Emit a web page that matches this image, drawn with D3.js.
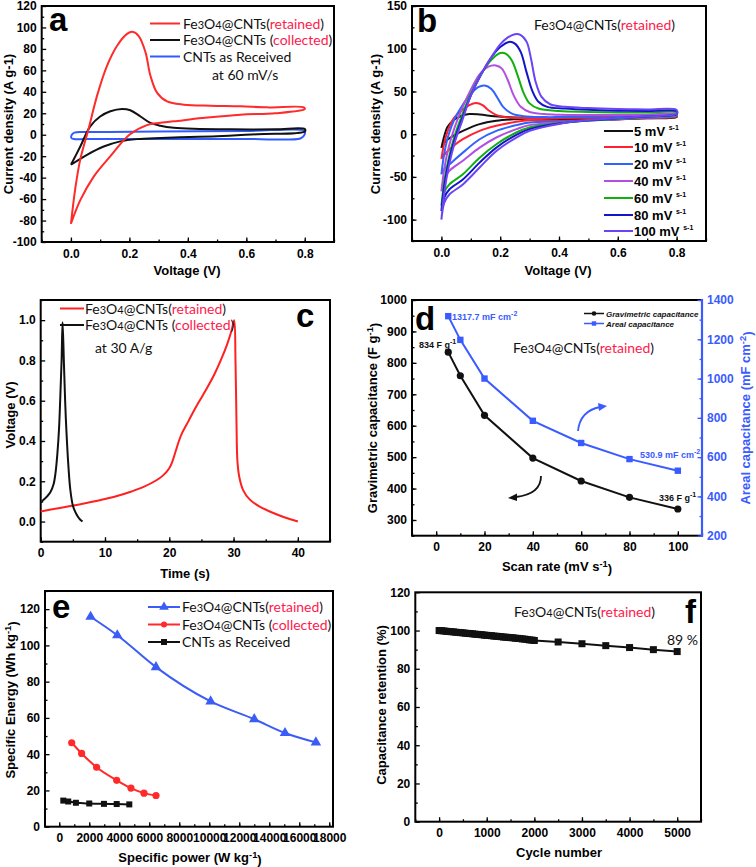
<!DOCTYPE html>
<html><head><meta charset="utf-8">
<script src="https://cdn.jsdelivr.net/npm/d3@7"></script>
<style>body{margin:0;background:#fff}svg{display:block}</style>
</head><body>
<svg id="c" width="756" height="867"></svg>
<script>
// ---------------- DATA ----------------
// Panel a: CV at 60 mV/s  [V, I]
const aRetained = [[0,-83],[0.015,-50],[0.032,-23],[0.06,5],[0.089,36],[0.123,64],[0.158,83],[0.192,94],[0.21,96],[0.232,92],[0.255,77],[0.272,55],[0.295,39],[0.329,31],[0.386,28],[0.478,27],[0.58,26.5],[0.672,25.5],[0.797,25.5],[0.8,24],[0.7,20],[0.58,18.7],[0.45,15.5],[0.352,12.5],[0.3,11],[0.26,9],[0.2,0],[0.135,-20],[0.078,-39],[0.032,-61],[0,-83]];
const aCollected = [[0,-28],[0.032,-11],[0.066,7.8],[0.1,17],[0.135,21.9],[0.175,24],[0.203,22.8],[0.238,17],[0.272,11],[0.306,8.4],[0.352,6.5],[0.42,5.5],[0.55,5],[0.7,5],[0.8,5.3],[0.8,3],[0.638,0.5],[0.5,-1.5],[0.352,-2.5],[0.306,-3],[0.226,-4.1],[0.169,-6.2],[0.112,-11],[0.055,-18.7],[0,-28]];
const aCNT = [[0,-3],[0.003,0],[0.012,2],[0.05,2.5],[0.3,3],[0.6,3.5],[0.79,4.5],[0.8,3],[0.797,-1],[0.785,-3.5],[0.6,-4],[0.3,-4],[0.05,-4],[0.01,-4],[0,-3]];
const aLegend = ["retained","collected","CNTs as Received"];

// Panel b: CV at various scan rates
const bRates = ["5","10","20","40","60","80","100"];
const b5 = [[0,-16],[0.01,-2],[0.02,8],[0.04,16],[0.065,21],[0.095,23.5],[0.13,23],[0.18,21],[0.23,19.8],[0.3,19.3],[0.4,19],[0.5,19.5],[0.6,20],[0.7,20.5],[0.8,21.5],[0.8,20],[0.7,18.5],[0.6,17.5],[0.5,17],[0.4,17.3],[0.3,18.3],[0.255,17.6],[0.187,15.7],[0.13,11.8],[0.073,3.9],[0.04,-2],[0.015,-8],[0,-16]];
const b10 = [[0,-29],[0.01,-10],[0.025,7],[0.045,20],[0.07,28],[0.095,34],[0.118,36.5],[0.14,34],[0.16,28],[0.19,22],[0.23,19.5],[0.3,18.8],[0.4,18.8],[0.5,19.2],[0.6,19.8],[0.7,20.5],[0.8,21.5],[0.8,20.5],[0.7,18.5],[0.6,17.2],[0.5,16.3],[0.4,15.8],[0.3,16.2],[0.255,14.5],[0.187,9.8],[0.13,3.9],[0.073,-5.9],[0.04,-14],[0.015,-22],[0,-29]];
const b20 = [[0,-47],[0.01,-22],[0.025,0],[0.045,18],[0.07,33],[0.1,47],[0.125,55],[0.147,57],[0.17,53],[0.19,43],[0.21,32],[0.24,24],[0.28,21],[0.35,20],[0.4,20],[0.5,20.5],[0.6,21.3],[0.7,22.2],[0.8,23],[0.8,21.5],[0.7,19.2],[0.6,17.5],[0.5,16],[0.4,14.8],[0.3,13.7],[0.255,10.6],[0.187,3.9],[0.13,-5.9],[0.073,-21.6],[0.035,-33],[0.012,-40],[0,-47]];
const b40 = [[0,-67],[0.01,-40],[0.025,-15],[0.045,8],[0.07,30],[0.1,52],[0.13,70],[0.16,79],[0.185,80.5],[0.205,77],[0.225,64],[0.245,46],[0.27,32],[0.3,26],[0.35,23.5],[0.4,22.8],[0.5,22.5],[0.6,22.5],[0.7,22.8],[0.8,23.5],[0.8,22],[0.7,19.8],[0.6,18],[0.5,16],[0.4,13.5],[0.3,10.6],[0.255,5.9],[0.187,-3.9],[0.13,-15.7],[0.073,-31],[0.027,-43],[0.01,-52],[0,-67]];
const b60 = [[0,-84],[0.01,-55],[0.025,-28],[0.045,-2],[0.07,22],[0.1,47],[0.135,70],[0.17,87],[0.2,95],[0.22,94],[0.24,86],[0.26,68],[0.28,48],[0.3,36],[0.33,30],[0.4,27],[0.5,26],[0.6,25.5],[0.7,25.3],[0.8,25.5],[0.8,23],[0.7,20.3],[0.6,18.2],[0.5,16],[0.4,12.8],[0.3,7.8],[0.255,2],[0.187,-11.8],[0.13,-27.5],[0.073,-47],[0.027,-58.8],[0.01,-68],[0,-84]];
const b80 = [[0,-90],[0.01,-60],[0.025,-32],[0.045,-6],[0.07,18],[0.1,45],[0.135,70],[0.17,90],[0.2,102],[0.23,108],[0.25,106],[0.27,96],[0.29,72],[0.31,50],[0.33,38],[0.36,32],[0.42,30],[0.5,28.5],[0.6,27.5],[0.7,27],[0.8,27],[0.8,23.5],[0.7,20.8],[0.6,18.5],[0.5,16.2],[0.4,12.5],[0.3,5.9],[0.255,-0.8],[0.187,-15.7],[0.13,-33.3],[0.073,-53],[0.027,-64.7],[0.01,-74],[0,-90]];
const b100 = [[0,-100],[0.01,-68],[0.025,-38],[0.045,-10],[0.07,15],[0.1,45],[0.135,70],[0.17,90],[0.2,105],[0.225,113],[0.25,117],[0.27,116],[0.29,108],[0.305,88],[0.32,62],[0.34,44],[0.37,35],[0.42,32],[0.5,30.5],[0.6,29.5],[0.7,29],[0.8,28.5],[0.8,24],[0.7,21],[0.6,18.8],[0.5,16.5],[0.4,12],[0.3,3.9],[0.255,-3.9],[0.187,-19.6],[0.13,-39],[0.073,-58.8],[0.027,-70.6],[0.01,-80],[0,-100]];
const bSeries = [b5,b10,b20,b40,b60,b80,b100];

// Panel c: galvanostatic charge/discharge at 30 A/g [t, V]
const cRetained = [[0,0.05],[2,0.062],[4,0.073],[6,0.085],[8,0.098],[10,0.112],[12,0.128],[14,0.148],[16,0.172],[18,0.205],[19,0.228],[20,0.265],[20.5,0.3],[21,0.35],[21.5,0.4],[22,0.44],[23,0.5],[24,0.56],[25,0.615],[26,0.67],[27,0.73],[28,0.8],[29,0.88],[29.7,0.95],[30.1,1.0],[30.3,0.8],[30.45,0.5],[30.6,0.3],[30.9,0.22],[31.5,0.155],[32.5,0.11],[34,0.075],[36,0.045],[38,0.02],[40,0.0]];
const cCollected = [[0,0.095],[0.5,0.11],[1,0.125],[1.5,0.145],[2,0.185],[2.3,0.24],[2.6,0.34],[2.85,0.46],[3.05,0.62],[3.25,0.8],[3.4,0.99],[3.6,0.8],[3.8,0.6],[4.0,0.45],[4.3,0.28],[4.6,0.16],[5,0.08],[5.5,0.04],[6,0.015],[6.5,0.0]];

// Panel d: capacitance vs scan rate
const dRate = [5,10,20,40,60,80,100];
const dGrav = [834,759,633,497,424,372,335];
const dAreal = [1317.7,1197,1000,785,672,590,530.9];

// Panel e: Ragone plot
const eRetP = [2090,3870,6450,10090,13000,15050,17110];
const eRetE = [115.8,105.6,88,69.1,59.3,51.7,46.5];
const eColP = [830,1490,2490,3830,4780,5650,6450];
const eColE = [46.3,40.4,32.8,25.6,21.3,18.5,17.2];
const eCntP = [270,600,1110,2000,2980,3830,4670];
const eCntE = [14.4,13.9,13.2,12.8,12.6,12.5,12.3];

// Panel f: cycling stability
const fCycle = [0,50,100,150,200,250,300,350,400,450,500,550,600,650,700,750,800,850,900,950,1000,1050,1100,1150,1200,1250,1300,1350,1400,1450,1500,1550,1600,1650,1700,1750,1800,1850,1900,1950,2000,2500,3000,3500,4000,4500,5000];
const fRet = [100.0,99.9,99.8,99.6,99.5,99.4,99.3,99.1,99.0,98.9,98.8,98.6,98.5,98.4,98.3,98.1,98.0,97.9,97.8,97.6,97.5,97.4,97.3,97.1,97.0,96.9,96.8,96.6,96.5,96.4,96.3,96.2,96.0,95.9,95.8,95.6,95.5,95.3,95.1,95.0,94.8,94.0,93.1,92.1,91.1,90.0,89.0];

// tick labels
const aXT=[0,0.2,0.4,0.6,0.8], aYT=[-100,-80,-60,-40,-20,0,20,40,60,80,100,120];
const bYT=[-100,-50,0,50,100,150];
const cXT=[0,10,20,30,40], cYT=[0,0.2,0.4,0.6,0.8,1.0];
const dXT=[0,20,40,60,80,100], dYT=[300,400,500,600,700,800,900,1000], dY2T=[200,400,600,800,1000,1200,1400];
const eXT=[0,2000,4000,6000,8000,10000,12000,14000,16000,18000], eYT=[0,20,40,60,80,100,120];
const fXT=[0,1000,2000,3000,4000,5000], fYT=[0,20,40,60,80,100,120];

// ---------------- DRAW ----------------
const svg = d3.select('#c');
const TF = '"Liberation Sans", Arial, sans-serif';
const LF = 'Lato, "Open Sans", sans-serif';
const TXTRED = '#ff1a4d';

function styleAxis(sel, color){
  sel.select('.domain').remove();
  sel.selectAll('line').attr('stroke', color||'#000').attr('stroke-width',1.3);
  sel.selectAll('text').attr('font-family',TF).attr('font-weight','bold').attr('font-size',12).attr('fill',color||'#000');
}
function panel(o){
  const g = svg.append('g');
  const x = d3.scaleLinear().domain(o.xd).range([o.l,o.r]);
  const y = d3.scaleLinear().domain(o.yd).range([o.b,o.t]);
  g.append('g').attr('transform',`translate(0,${o.b})`)
    .call(d3.axisBottom(x).tickValues(o.xm).tickSize(-2.5).tickFormat('')).call(s=>styleAxis(s));
  g.append('g').attr('transform',`translate(0,${o.b})`)
    .call(d3.axisBottom(x).tickValues(o.xt).tickSizeInner(-4.5).tickSizeOuter(0).tickPadding(7).tickFormat(o.xf||(d=>d))).call(s=>styleAxis(s));
  g.append('g').attr('transform',`translate(${o.l},0)`)
    .call(d3.axisLeft(y).tickValues(o.ym).tickSize(-2.5).tickFormat('')).call(s=>styleAxis(s));
  g.append('g').attr('transform',`translate(${o.l},0)`)
    .call(d3.axisLeft(y).tickValues(o.yt).tickSizeInner(-4.5).tickSizeOuter(0).tickPadding(5).tickFormat(o.yf||(d=>d))).call(s=>styleAxis(s));
  g.append('rect').attr('x',o.l).attr('y',o.t).attr('width',o.r-o.l).attr('height',o.b-o.t)
    .attr('fill','none').attr('stroke','#000').attr('stroke-width',2);
  // titles
  g.append('text').attr('x',o.xtx).attr('y',o.xty).attr('text-anchor','middle')
    .attr('font-family',TF).attr('font-weight','bold').attr('font-size',13).call(o.xtitle);
  g.append('text').attr('transform',`translate(${o.ytx},${o.yty}) rotate(-90)`).attr('text-anchor','middle')
    .attr('font-family',TF).attr('font-weight','bold').attr('font-size',13).call(o.ytitle);
  return {g,x,y};
}
const plain = s => t => t.text(s);
function sup(base, s){ return t => { t.append('tspan').text(base); t.append('tspan').attr('font-size','0.72em').attr('dy','-0.45em').text(s); t.append('tspan').attr('dy','0.45em').text(')'); }; }
function letter(g,x,y,ch){ g.append('text').attr('x',x).attr('y',y).attr('font-family',TF).attr('font-weight','bold').attr('font-size',33).text(ch); }
function feText(g,x,y,word,space){
  const t=g.append('text').attr('x',x).attr('y',y).attr('font-family',LF).attr('font-size',14).attr('fill','#111');
  t.append('tspan').text('Fe'); t.append('tspan').attr('font-size',11).text('3');
  t.append('tspan').text('O'); t.append('tspan').attr('font-size',11).text('4');
  t.append('tspan').text(space?'@CNTs (':'@CNTs(');
  t.append('tspan').attr('fill',TXTRED).text(word);
  t.append('tspan').text(')');
  return t;
}
const cr = d3.curveCatmullRom.alpha(0.5);
function curve(g,x,y,data,color,w){
  g.append('path').datum(data).attr('fill','none').attr('stroke',color).attr('stroke-width',w||2)
   .attr('stroke-linejoin','round').attr('d',d3.line().x(d=>x(d[0])).y(d=>y(d[1])).curve(cr));
}

// ---- Panel a ----
{
  const P = panel({l:41.7,r:334,t:6,b:242,xd:[-0.1,0.9],yd:[-100,120],xt:aXT,xm:d3.range(-0.1,0.95,0.1),yt:aYT,ym:d3.range(-90,120,20),
    xf:d3.format('.1f'),xtx:187,xty:275,ytx:13,yty:124,xtitle:plain('Voltage (V)'),ytitle:plain('Current density (A g-1)')});
  const {g,x,y}=P;
  curve(g,x,y,aCNT,'#2f5bff');
  curve(g,x,y,aCollected,'#111');
  curve(g,x,y,aRetained,'#ff2a2a');
  letter(g,49,31,'a');
  const cols=['#ff2a2a','#111','#2f5bff'], ly=[23.5,40,56.5];
  cols.forEach((c,i)=>g.append('line').attr('x1',150).attr('x2',180).attr('y1',ly[i]).attr('y2',ly[i]).attr('stroke',c).attr('stroke-width',2));
  feText(g,183,ly[0]+5,aLegend[0],false);
  feText(g,183,ly[1]+5,aLegend[1],true);
  g.append('text').attr('x',183).attr('y',ly[2]+5).attr('font-family',LF).attr('font-size',14).attr('fill','#111').text(aLegend[2]);
  g.append('text').attr('x',212).attr('y',80).attr('font-family',LF).attr('font-size',14).attr('fill','#111').text('at 60 mV/s');
}

// ---- Panel b ----
{
  const P = panel({l:412,r:706,t:6,b:241,xd:[-0.1,0.9],yd:[-125,150],xt:aXT,xm:d3.range(-0.1,0.95,0.1),yt:bYT,ym:d3.range(-125,151,25),
    xf:d3.format('.1f'),xtx:558,xty:275,ytx:380,yty:124,xtitle:plain('Voltage (V)'),ytitle:plain('Current density (A g-1)')});
  const {g,x,y}=P;
  const cols=['#111','#ff2030','#2f63ff','#b24fe0','#10b010','#1414c8','#6a45f5'];
  bSeries.forEach((s,i)=>curve(g,x,y,s,cols[i],2));
  letter(g,417,32,'b');
  feText(g,534,30,'retained',false);
  const ly=[131,147,164,181,198,215,231];
  bRates.forEach((r,i)=>{
    g.append('line').attr('x1',604).attr('x2',633).attr('y1',ly[i]).attr('y2',ly[i]).attr('stroke',cols[i]).attr('stroke-width',2);
    const t=g.append('text').attr('x',634).attr('y',ly[i]+5).attr('font-family',TF).attr('font-weight','bold').attr('font-size',13);
    t.append('tspan').text(r+' mV ');
    t.append('tspan').attr('font-size',7).attr('dy',-6).text('s-1');
  });
}

// ---- Panel c ----
{
  const P = panel({l:40.7,r:330,t:300,b:541.7,xd:[0,45],yd:[-0.1,1.1],xt:cXT,xm:d3.range(0,46,5),yt:cYT,ym:d3.range(-0.1,1.1,0.2),
    yf:d3.format('.1f'),xtx:185,xty:578,ytx:15,yty:415,xtitle:plain('Time (s)'),ytitle:plain('Voltage (V)')});
  const {g,x,y}=P;
  curve(g,x,y,cRetained,'#ff2020');
  g.append('line').attr('x1',60).attr('x2',84).attr('y1',308.5).attr('y2',308.5).attr('stroke','#ff2020').attr('stroke-width',2);
  g.append('line').attr('x1',60).attr('x2',84).attr('y1',325).attr('y2',325).attr('stroke','#111').attr('stroke-width',2);
  feText(g,85,313.5,'retained',false);
  feText(g,85,330,'collected',true);
  curve(g,x,y,cCollected,'#111');
  g.append('text').attr('x',95).attr('y',353).attr('font-family',LF).attr('font-size',14).attr('fill','#111').text('at 30 A/g');
  letter(g,296,327,'c');
}

// ---- Panel d ----
{
  const BL='#3a5bff';
  const P = panel({l:412,r:702,t:300,b:535.7,xd:[-10,110],yd:[250,1000],xt:dXT,xm:d3.range(-10,111,10),yt:dYT,ym:d3.range(250,1001,50),
    xtx:557,xty:571,ytx:377,yty:418,xtitle:sup('Scan rate (mV s','-1'),ytitle:sup('Gravimetric capacitance (F g','-1')});
  const {g,x,y}=P;
  const y2=d3.scaleLinear().domain([200,1400]).range([535.7,300]);
  g.append('g').attr('transform','translate(702,0)')
    .call(d3.axisRight(y2).tickValues(d3.range(200,1401,100)).tickSize(-2.5).tickFormat('')).call(s=>styleAxis(s,BL));
  g.append('g').attr('transform','translate(702,0)')
    .call(d3.axisRight(y2).tickValues(dY2T).tickSizeInner(-4.5).tickSizeOuter(0).tickPadding(5).tickFormat(d=>d)).call(s=>styleAxis(s,BL));
  g.append('line').attr('x1',702).attr('x2',702).attr('y1',299).attr('y2',536.7).attr('stroke',BL).attr('stroke-width',2.2);
  const t2=g.append('text').attr('transform','translate(750,418) rotate(-90)').attr('text-anchor','middle')
    .attr('font-family',TF).attr('font-weight','bold').attr('font-size',13).attr('fill',BL);
  sup('Areal capacitance (mF cm','-2')(t2);
  const gl=d3.line().x((d,i)=>x(dRate[i])).y(d=>y(d));
  g.append('path').datum(dGrav).attr('fill','none').attr('stroke','#111').attr('stroke-width',2).attr('d',gl);
  g.selectAll('.gc').data(dGrav).join('circle').attr('cx',(d,i)=>x(dRate[i])).attr('cy',d=>y(d)).attr('r',3.6).attr('fill','#111');
  const al=d3.line().x((d,i)=>x(dRate[i])).y(d=>y2(d));
  g.append('path').datum(dAreal).attr('fill','none').attr('stroke',BL).attr('stroke-width',2).attr('d',al);
  g.selectAll('.ar').data(dAreal).join('rect').attr('x',(d,i)=>x(dRate[i])-3.2).attr('y',d=>y2(d)-3.2).attr('width',6.4).attr('height',6.4).attr('fill',BL);
  letter(g,415,330,'d');
  // legend
  g.append('line').attr('x1',584).attr('x2',604).attr('y1',313.5).attr('y2',313.5).attr('stroke','#111').attr('stroke-width',1.5);
  g.append('circle').attr('cx',594).attr('cy',313.5).attr('r',2.3).attr('fill','#111');
  g.append('line').attr('x1',584).attr('x2',604).attr('y1',323.5).attr('y2',323.5).attr('stroke',BL).attr('stroke-width',1.5);
  g.append('rect').attr('x',591.8).attr('y',321.3).attr('width',4.4).attr('height',4.4).attr('fill',BL);
  [['Gravimetric capacitance','#111',316.5],['Areal capacitance','#111',326.5]].forEach(d=>
    g.append('text').attr('x',606).attr('y',d[2]).attr('font-family',TF).attr('font-style','italic').attr('font-weight','bold').attr('font-size',8).attr('fill',d[1]).text(d[0]));
  feText(g,513,353,'retained',false);
  function ann(xp,yp,base,s,color){
    const t=g.append('text').attr('x',xp).attr('y',yp).attr('font-family',TF).attr('font-weight','bold').attr('font-size',9).attr('fill',color);
    t.append('tspan').text(base); t.append('tspan').attr('font-size',7).attr('dy',-4).text(s);
  }
  ann(452,320,'1317.7 mF cm','-2',BL);
  ann(419,348,'834 F g','-1','#111');
  ann(640,458,'530.9 mF cm','-2',BL);
  ann(659,501,'336 F g','-1','#111');
  // arrows
  g.append('path').attr('d','M578,431 Q580,411 600,407').attr('fill','none').attr('stroke',BL).attr('stroke-width',1.8);
  g.append('path').attr('d','M607,406 L598,403 L599,411 Z').attr('fill',BL);
  g.append('path').attr('d','M541,476 Q541,494 516,497').attr('fill','none').attr('stroke','#111').attr('stroke-width',1.8);
  g.append('path').attr('d','M508,498 L517,493.5 L517,501 Z').attr('fill','#111');
}

// ---- Panel e ----
{
  const P = panel({l:45,r:333,t:591,b:826.7,xd:[-950,18250],yd:[0,130],xt:eXT,xm:d3.range(-0,18001,1000),yt:eYT,ym:d3.range(10,131,20),
    xtx:190,xty:862,ytx:15,yty:700,xtitle:sup('Specific power (W kg','-1'),ytitle:sup('Specific Energy (Wh kg','-1')});
  const {g,x,y}=P;
  const BL='#3b5cf5', RD='#ff2a2a';
  const ln=(P,E,c)=>g.append('path').datum(E).attr('fill','none').attr('stroke',c).attr('stroke-width',2)
     .attr('d',d3.line().x((d,i)=>x(P[i])).y(d=>y(d)).curve(d3.curveMonotoneX));
  ln(eRetP,eRetE,BL); ln(eColP,eColE,RD); ln(eCntP,eCntE,'#111');
  const tri=d3.symbol().type(d3.symbolTriangle).size(48);
  g.selectAll('.t').data(eRetE).join('path').attr('d',tri).attr('transform',(d,i)=>`translate(${x(eRetP[i])},${y(d)})`).attr('fill',BL);
  g.selectAll('.c').data(eColE).join('circle').attr('cx',(d,i)=>x(eColP[i])).attr('cy',d=>y(d)).attr('r',3.6).attr('fill',RD);
  g.selectAll('.s').data(eCntE).join('rect').attr('x',(d,i)=>x(eCntP[i])-3).attr('y',d=>y(d)-3).attr('width',6).attr('height',6).attr('fill','#111');
  letter(g,52,618,'e');
  const ly=[607,624.5,642];
  g.append('line').attr('x1',148).attr('x2',180).attr('y1',ly[0]).attr('y2',ly[0]).attr('stroke',BL).attr('stroke-width',2);
  g.append('path').attr('d',d3.symbol().type(d3.symbolTriangle).size(40)).attr('transform',`translate(164,${ly[0]})`).attr('fill',BL);
  g.append('line').attr('x1',148).attr('x2',180).attr('y1',ly[1]).attr('y2',ly[1]).attr('stroke',RD).attr('stroke-width',2);
  g.append('circle').attr('cx',164).attr('cy',ly[1]).attr('r',3).attr('fill',RD);
  g.append('line').attr('x1',148).attr('x2',180).attr('y1',ly[2]).attr('y2',ly[2]).attr('stroke','#111').attr('stroke-width',2);
  g.append('rect').attr('x',161).attr('y',ly[2]-3).attr('width',6).attr('height',6).attr('fill','#111');
  feText(g,182,ly[0]+5,'retained',false);
  feText(g,182,ly[1]+5,'collected',true);
  g.append('text').attr('x',182).attr('y',ly[2]+5).attr('font-family',LF).attr('font-size',14).attr('fill','#111').text('CNTs as Received');
}

// ---- Panel f ----
{
  const P = panel({l:415.3,r:701,t:592.3,b:821.7,xd:[-500,5500],yd:[0,120],xt:fXT,xm:d3.range(-500,5501,500),yt:fYT,ym:d3.range(10,121,20),
    xtx:559,xty:857,ytx:386,yty:705,xtitle:plain('Cycle number'),ytitle:plain('Capacitance retention (%)')});
  const {g,x,y}=P;
  g.append('path').datum(fRet).attr('fill','none').attr('stroke','#111').attr('stroke-width',2)
    .attr('d',d3.line().x((d,i)=>x(fCycle[i])).y(d=>y(d)));
  g.selectAll('.s').data(fRet).join('rect').attr('x',(d,i)=>x(fCycle[i])-3.5).attr('y',d=>y(d)-3.5).attr('width',7).attr('height',7).attr('fill','#111');
  feText(g,514,617,'retained',false);
  g.append('text').attr('x',667).attr('y',645).attr('font-family',LF).attr('font-size',14).attr('fill','#111').text('89 %');
  letter(g,685,623,'f');
}
</script>
</body></html>
